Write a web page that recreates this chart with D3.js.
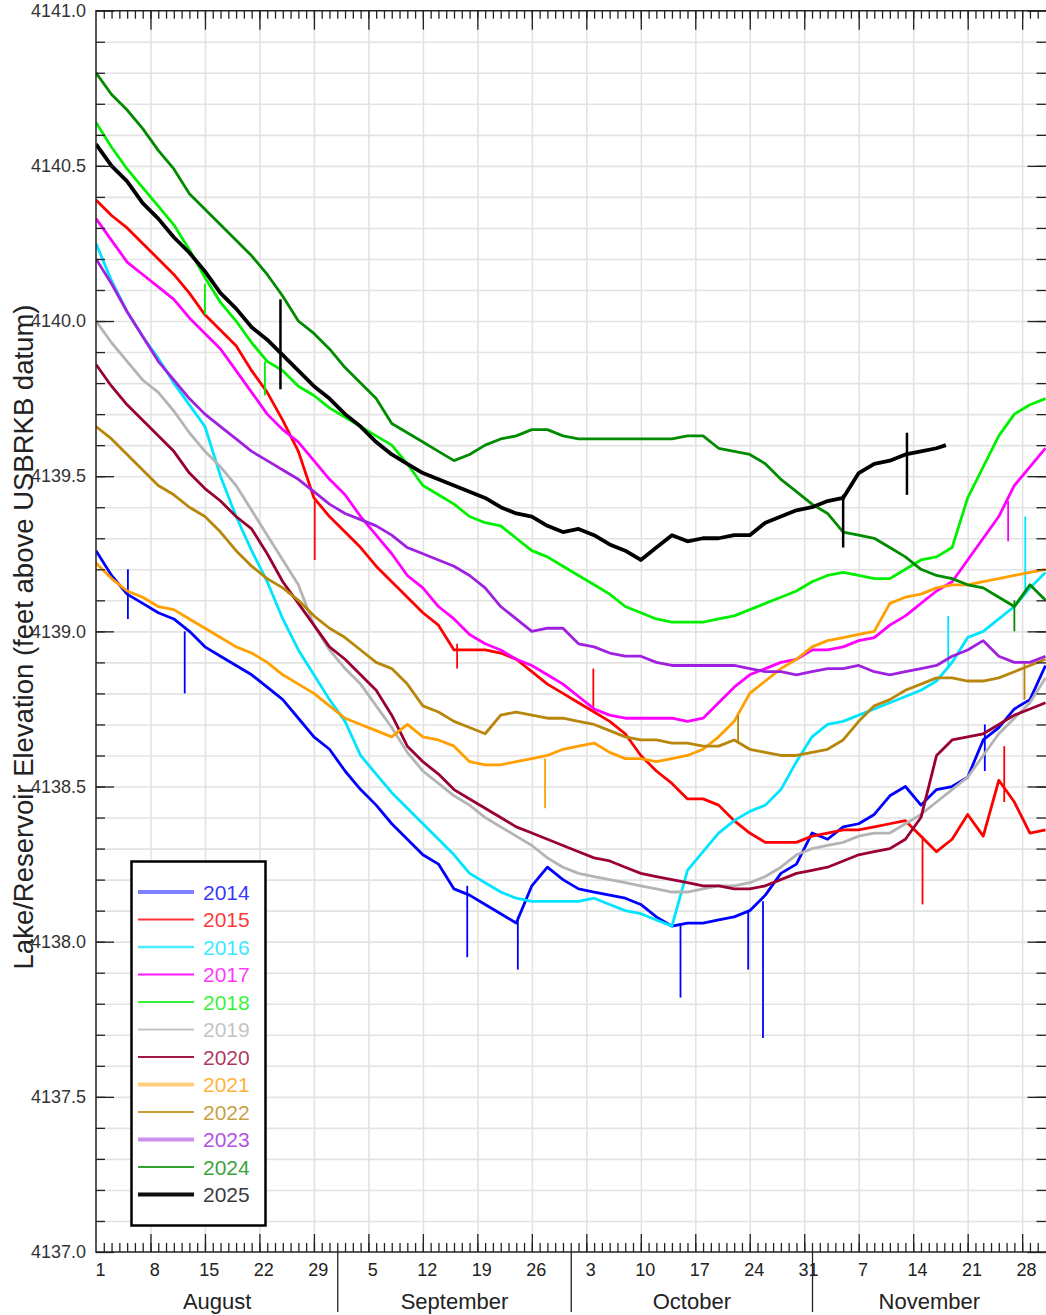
<!DOCTYPE html>
<html>
<head>
<meta charset="utf-8">
<script src="https://cdn.jsdelivr.net/npm/d3@7"></script>
<style>
html,body{margin:0;padding:0;background:#fff;}
svg{display:block;font-family:"Liberation Sans",Arial,Helvetica,sans-serif;}
</style>
</head>
<body>
<svg id="chart" width="1046" height="1315"></svg>
<script>
// ---------------- DATA ----------------
const years = ["2014","2015","2016","2017","2018","2019","2020","2021","2022","2023","2024","2025"];
const seriesColors = ["#0000ff","#ff0000","#00e5ff","#ff00ff","#00f000","#b4b4b4","#990033","#ffa000","#b8860b","#a020e0","#008b00","#000000"];

// days since Aug 1 (00:00) of each sample
const sampleDays = [0,2,4,6,8,10,12,14,16,18,20,22,24,26,28,30,32,34,36,38,40,42,44,46,48,50,52,54,56,58,60,
  62,64,66,68,70,72,74,76,78,80,82,84,86,88,90,92,94,96,98,100,102,104,106,108,110,112,114,116,118,120,122];

const v2014 = [4139.26,4139.18,4139.12,4139.09,4139.06,4139.04,4139.00,4138.95,4138.92,4138.89,
  4138.86,4138.82,4138.78,4138.72,4138.66,4138.62,4138.55,4138.49,4138.44,4138.38,
  4138.33,4138.28,4138.25,4138.17,4138.15,4138.12,4138.09,4138.06,4138.18,4138.24,
  4138.20,4138.17,4138.16,4138.15,4138.14,4138.12,4138.08,4138.05,4138.06,4138.06,
  4138.07,4138.08,4138.10,4138.15,4138.22,4138.25,4138.35,4138.33,4138.37,4138.38,
  4138.41,4138.47,4138.50,4138.44,4138.49,4138.50,4138.53,4138.65,4138.69,4138.75,
  4138.78,4138.89];
const v2015 = [4140.39,4140.34,4140.30,4140.25,4140.20,4140.15,4140.09,4140.02,4139.97,4139.92,
  4139.84,4139.77,4139.68,4139.58,4139.43,4139.37,4139.32,4139.27,4139.21,4139.16,
  4139.11,4139.06,4139.02,4138.94,4138.94,4138.94,4138.93,4138.91,4138.87,4138.83,
  4138.80,4138.77,4138.74,4138.71,4138.67,4138.60,4138.55,4138.51,4138.46,4138.46,
  4138.44,4138.39,4138.35,4138.32,4138.32,4138.32,4138.34,4138.35,4138.36,4138.36,
  4138.37,4138.38,4138.39,4138.34,4138.29,4138.33,4138.41,4138.34,4138.52,4138.45,
  4138.35,4138.36];
const v2016 = [4140.25,4140.13,4140.03,4139.95,4139.88,4139.80,4139.73,4139.66,4139.50,4139.37,
  4139.26,4139.16,4139.04,4138.94,4138.86,4138.78,4138.71,4138.60,4138.54,4138.48,
  4138.43,4138.38,4138.33,4138.28,4138.22,4138.19,4138.16,4138.14,4138.13,4138.13,
  4138.13,4138.13,4138.14,4138.12,4138.10,4138.09,4138.07,4138.05,4138.23,4138.29,
  4138.35,4138.39,4138.42,4138.44,4138.49,4138.58,4138.66,4138.70,4138.71,4138.73,
  4138.75,4138.77,4138.79,4138.81,4138.84,4138.90,4138.98,4139.00,4139.04,4139.08,
  4139.14,4139.19];
const v2017 = [4140.33,4140.26,4140.19,4140.15,4140.11,4140.07,4140.01,4139.96,4139.91,4139.84,
  4139.77,4139.70,4139.65,4139.61,4139.55,4139.49,4139.44,4139.37,4139.31,4139.25,
  4139.18,4139.14,4139.08,4139.04,4138.99,4138.96,4138.94,4138.91,4138.89,4138.86,
  4138.83,4138.79,4138.75,4138.73,4138.72,4138.72,4138.72,4138.72,4138.71,4138.72,
  4138.77,4138.82,4138.86,4138.88,4138.90,4138.91,4138.94,4138.94,4138.95,4138.97,
  4138.98,4139.02,4139.05,4139.09,4139.13,4139.16,4139.23,4139.30,4139.37,4139.47,
  4139.53,4139.59];
const v2018 = [4140.64,4140.56,4140.49,4140.43,4140.37,4140.31,4140.23,4140.14,4140.06,4140.00,
  4139.93,4139.87,4139.84,4139.79,4139.76,4139.72,4139.69,4139.66,4139.63,4139.60,
  4139.54,4139.47,4139.44,4139.41,4139.37,4139.35,4139.34,4139.30,4139.26,4139.24,
  4139.21,4139.18,4139.15,4139.12,4139.08,4139.06,4139.04,4139.03,4139.03,4139.03,
  4139.04,4139.05,4139.07,4139.09,4139.11,4139.13,4139.16,4139.18,4139.19,4139.18,
  4139.17,4139.17,4139.20,4139.23,4139.24,4139.27,4139.43,4139.53,4139.63,4139.70,
  4139.73,4139.75];
const v2019 = [4140.00,4139.93,4139.87,4139.81,4139.77,4139.71,4139.64,4139.58,4139.53,4139.47,
  4139.39,4139.31,4139.23,4139.15,4139.02,4138.94,4138.88,4138.83,4138.76,4138.69,
  4138.61,4138.55,4138.51,4138.47,4138.44,4138.40,4138.37,4138.34,4138.31,4138.27,
  4138.24,4138.22,4138.21,4138.20,4138.19,4138.18,4138.17,4138.16,4138.16,4138.17,
  4138.18,4138.18,4138.19,4138.21,4138.24,4138.28,4138.30,4138.31,4138.32,4138.34,
  4138.35,4138.35,4138.38,4138.41,4138.45,4138.49,4138.53,4138.60,4138.67,4138.72,
  4138.77,4138.85];
const v2020 = [4139.86,4139.79,4139.73,4139.68,4139.63,4139.58,4139.51,4139.46,4139.42,4139.37,
  4139.33,4139.25,4139.16,4139.09,4139.02,4138.95,4138.91,4138.86,4138.81,4138.73,
  4138.63,4138.58,4138.54,4138.49,4138.46,4138.43,4138.40,4138.37,4138.35,4138.33,
  4138.31,4138.29,4138.27,4138.26,4138.24,4138.22,4138.21,4138.20,4138.19,4138.18,
  4138.18,4138.17,4138.17,4138.18,4138.20,4138.22,4138.23,4138.24,4138.26,4138.28,
  4138.29,4138.30,4138.33,4138.40,4138.60,4138.65,4138.66,4138.67,4138.70,4138.73,
  4138.75,4138.77];
const v2021 = [4139.22,4139.17,4139.13,4139.11,4139.08,4139.07,4139.04,4139.01,4138.98,4138.95,
  4138.93,4138.90,4138.86,4138.83,4138.80,4138.76,4138.72,4138.70,4138.68,4138.66,
  4138.70,4138.66,4138.65,4138.63,4138.58,4138.57,4138.57,4138.58,4138.59,4138.60,
  4138.62,4138.63,4138.64,4138.61,4138.59,4138.59,4138.58,4138.59,4138.60,4138.62,
  4138.66,4138.71,4138.80,4138.84,4138.88,4138.91,4138.95,4138.97,4138.98,4138.99,
  4139.00,4139.09,4139.11,4139.12,4139.14,4139.15,4139.15,4139.16,4139.17,4139.18,
  4139.19,4139.20];
const v2022 = [4139.66,4139.62,4139.57,4139.52,4139.47,4139.44,4139.40,4139.37,4139.32,4139.26,
  4139.21,4139.17,4139.14,4139.10,4139.05,4139.01,4138.98,4138.94,4138.90,4138.88,
  4138.83,4138.76,4138.74,4138.71,4138.69,4138.67,4138.73,4138.74,4138.73,4138.72,
  4138.72,4138.71,4138.70,4138.68,4138.66,4138.65,4138.65,4138.64,4138.64,4138.63,
  4138.63,4138.65,4138.62,4138.61,4138.60,4138.60,4138.61,4138.62,4138.65,4138.71,
  4138.76,4138.78,4138.81,4138.83,4138.85,4138.85,4138.84,4138.84,4138.85,4138.87,
  4138.89,4138.91];
const v2023 = [4140.20,4140.12,4140.03,4139.95,4139.87,4139.81,4139.75,4139.70,4139.66,4139.62,
  4139.58,4139.55,4139.52,4139.49,4139.45,4139.41,4139.38,4139.36,4139.34,4139.31,
  4139.27,4139.25,4139.23,4139.21,4139.18,4139.14,4139.08,4139.04,4139.00,4139.01,
  4139.01,4138.96,4138.95,4138.93,4138.92,4138.92,4138.90,4138.89,4138.89,4138.89,
  4138.89,4138.89,4138.88,4138.87,4138.87,4138.86,4138.87,4138.88,4138.88,4138.89,
  4138.87,4138.86,4138.87,4138.88,4138.89,4138.92,4138.94,4138.97,4138.92,4138.90,
  4138.90,4138.92];
const v2024 = [4140.80,4140.73,4140.68,4140.62,4140.55,4140.49,4140.41,4140.36,4140.31,4140.26,
  4140.21,4140.15,4140.08,4140.00,4139.96,4139.91,4139.85,4139.80,4139.75,4139.67,
  4139.64,4139.61,4139.58,4139.55,4139.57,4139.60,4139.62,4139.63,4139.65,4139.65,
  4139.63,4139.62,4139.62,4139.62,4139.62,4139.62,4139.62,4139.62,4139.63,4139.63,
  4139.59,4139.58,4139.57,4139.54,4139.49,4139.45,4139.41,4139.38,4139.32,4139.31,
  4139.30,4139.27,4139.24,4139.20,4139.18,4139.17,4139.15,4139.14,4139.11,4139.08,
  4139.15,4139.10];
const v2025 = [4140.57,4140.50,4140.45,4140.38,4140.33,4140.27,4140.22,4140.16,4140.09,4140.04,
  4139.98,4139.94,4139.89,4139.84,4139.79,4139.75,4139.70,4139.66,4139.61,4139.57,
  4139.54,4139.51,4139.49,4139.47,4139.45,4139.43,4139.40,4139.38,4139.37,4139.34,
  4139.32,4139.33,4139.31,4139.28,4139.26,4139.23,4139.27,4139.31,4139.29,4139.30,
  4139.30,4139.31,4139.31,4139.35,4139.37,4139.39,4139.40,4139.42,4139.43,4139.51,
  4139.54,4139.55,4139.57,4139.58,4139.59];
// last reading of 2025 (Nov 18)
const last2025 = [109.2, 4139.60];

const seriesValues = [v2014,v2015,v2016,v2017,v2018,v2019,v2020,v2021,v2022,v2023,v2024,v2025];

// short spikes: [year, day, from, to]
const spikes = [
  ["2014",4.1,4139.20,4139.04],["2014",11.4,4139.00,4138.80],["2014",47.7,4138.18,4137.95],
  ["2014",54.2,4138.08,4137.91],["2014",75.1,4138.06,4137.82],["2014",83.8,4138.10,4137.91],
  ["2014",85.7,4138.13,4137.69],["2014",114.2,4138.55,4138.70],
  ["2015",28.1,4139.42,4139.23],["2015",46.4,4138.96,4138.88],["2015",63.9,4138.75,4138.88],
  ["2015",106.2,4138.34,4138.12],["2015",116.7,4138.45,4138.63],
  ["2016",119.4,4139.12,4139.37],["2016",109.5,4138.88,4139.05],
  ["2017",117.2,4139.42,4139.29],
  ["2018",14.0,4140.12,4140.02],["2018",21.7,4139.87,4139.76],
  ["2021",57.7,4138.59,4138.43],
  ["2022",82.5,4138.64,4138.73],["2022",119.3,4138.90,4138.78],
  ["2024",118.0,4139.10,4139.00],
  ["2025",23.7,4140.07,4139.78],["2025",96.0,4139.44,4139.27],["2025",104.2,4139.64,4139.44]
];

// axis labels
const yTickLabels = ["4137.0","4137.5","4138.0","4138.5","4139.0","4139.5","4140.0","4140.5","4141.0"];
const dayTickDays = [0,7,14,21,28,35,42,49,56,63,70,77,84,91,98,105,112,119];
const dayTickLabels = ["1","8","15","22","29","5","12","19","26","3","10","17","24","31","7","14","21","28"];
const monthNames = ["August","September","October","November"];
const monthStartDays = [0,31,61,92,122];

// legend styles
const legendLineWidth = [4,2,2.5,2,2,2,2,4,2,4,2,4];
const legendLineOpacity = [0.5,0.8,0.7,0.9,0.8,0.8,0.9,0.5,0.8,0.5,0.8,0.95];

// ---------------- DRAW ----------------
const L = 96, R = 1045.5, T = 10.7, B = 1252;
const svg = d3.select("#chart");
const x = d3.scaleLinear().domain([0, 122]).range([L, R]);
const y = d3.scaleLinear().domain([4137, 4141]).range([B, T]);

const yMinor = d3.range(1, 40).map(i => +(4137 + i / 10).toFixed(1));
const yMajor = yTickLabels.map(Number);
const dayAll = d3.range(1, 122);
const weekly = dayTickDays.filter(d => d > 0);

function clean(g) { g.select(".domain").remove(); }

// gridlines
svg.append("g").attr("transform", `translate(${L},0)`)
  .call(d3.axisLeft(y).tickValues(yMinor).tickSize(-(R - L)).tickFormat(""))
  .call(clean)
  .selectAll("line").attr("stroke", "#e3e3e3").attr("stroke-width", 1.6);
svg.append("g").attr("transform", `translate(0,${B})`)
  .call(d3.axisBottom(x).tickValues(weekly).tickSize(-(B - T)).tickFormat(""))
  .call(clean)
  .selectAll("line").attr("stroke", "#e3e3e3").attr("stroke-width", 1.6);

// series
svg.append("defs").append("clipPath").attr("id", "plotclip")
  .append("rect").attr("x", L).attr("y", T).attr("width", R - L + 2).attr("height", B - T);
const plot = svg.append("g").attr("clip-path", "url(#plotclip)");
const line = d3.line().x(d => x(d[0])).y(d => y(d[1]));

years.forEach((yr, i) => {
  const vals = seriesValues[i];
  const pts = vals.map((v, k) => [sampleDays[k], v]);
  if (yr === "2025") pts.push(last2025);
  plot.append("path").datum(pts)
    .attr("fill", "none")
    .attr("stroke", seriesColors[i])
    .attr("stroke-width", yr === "2025" ? 3.8 : 2.8)
    .attr("stroke-linejoin", "round")
    .attr("d", line);
  spikes.filter(s => s[0] === yr).forEach(s => {
    plot.append("line")
      .attr("x1", x(s[1])).attr("x2", x(s[1]))
      .attr("y1", y(s[2])).attr("y2", y(s[3]))
      .attr("stroke", seriesColors[i])
      .attr("stroke-width", yr === "2025" ? 2.5 : 1.8);
  });
});

// frame (left, top, bottom; right edge lies at the picture border)
svg.append("path")
  .attr("d", `M${R + 2},${T}H${L}V${B}H${R + 2}`)
  .attr("fill", "none").attr("stroke", "#222").attr("stroke-width", 1.5);

const tickStyle = g => g.selectAll("line").attr("stroke", "#222").attr("stroke-width", 1.3);

// left axis
svg.append("g").attr("transform", `translate(${L},0)`)
  .call(d3.axisLeft(y).tickValues(yMinor).tickSize(-9).tickFormat(""))
  .call(clean).call(tickStyle);
const yAx = svg.append("g").attr("transform", `translate(${L},0)`)
  .call(d3.axisLeft(y).tickValues(yMajor).tickSize(-18).tickPadding(10).tickFormat(d3.format(".1f")))
  .call(clean).call(tickStyle);
yAx.selectAll("text").attr("font-size", 18).attr("fill", "#333")
  .attr("font-family", '"Liberation Sans",Arial,sans-serif');

// right axis
svg.append("g").attr("transform", `translate(1046.5,0)`)
  .call(d3.axisRight(y).tickValues(yMinor).tickSize(-10).tickFormat(""))
  .call(clean).call(tickStyle);
svg.append("g").attr("transform", `translate(1046.5,0)`)
  .call(d3.axisRight(y).tickValues(yMajor).tickSize(-19).tickFormat(""))
  .call(clean).call(tickStyle);

// bottom axis ticks
svg.append("g").attr("transform", `translate(0,${B})`)
  .call(d3.axisBottom(x).tickValues(dayAll).tickSize(-9).tickFormat(""))
  .call(clean).call(tickStyle);
svg.append("g").attr("transform", `translate(0,${B})`)
  .call(d3.axisBottom(x).tickValues(weekly).tickSize(-18).tickFormat(""))
  .call(clean).call(tickStyle);
// top axis ticks
svg.append("g").attr("transform", `translate(0,${T})`)
  .call(d3.axisTop(x).tickValues(dayAll).tickSize(-8).tickFormat(""))
  .call(clean).call(tickStyle);
svg.append("g").attr("transform", `translate(0,${T})`)
  .call(d3.axisTop(x).tickValues(weekly).tickSize(-19).tickFormat(""))
  .call(clean).call(tickStyle);

// day labels
const dAx = svg.append("g").attr("transform", `translate(0,${B})`)
  .call(d3.axisBottom(x).tickValues(dayTickDays.map(d => d + 0.5)).tickSize(0).tickPadding(11)
    .tickFormat((d, i) => dayTickLabels[i]))
  .call(clean);
dAx.selectAll("text").attr("font-size", 18).attr("fill", "#222")
  .attr("font-family", '"Liberation Sans",Arial,sans-serif');

// month separators
svg.append("g").attr("transform", `translate(0,${B})`)
  .call(d3.axisBottom(x).tickValues(monthStartDays.slice(1, 4)).tickSize(60).tickFormat(""))
  .call(clean).call(tickStyle);

// month labels
const mids = monthNames.map((m, i) => (monthStartDays[i] + monthStartDays[i + 1]) / 2);
const mAx = svg.append("g").attr("transform", `translate(0,${B})`)
  .call(d3.axisBottom(x).tickValues(mids).tickSize(0).tickPadding(41)
    .tickFormat((d, i) => monthNames[i]))
  .call(clean);
mAx.selectAll("text").attr("font-size", 22).attr("fill", "#222")
  .attr("font-family", '"Liberation Sans",Arial,sans-serif');

// y title
svg.append("text")
  .attr("transform", "translate(33,637) rotate(-90)")
  .attr("text-anchor", "middle")
  .attr("font-size", 27.5)
  .attr("fill", "#222")
  .text("Lake/Reservoir Elevation (feet above USBRKB datum)");

// legend
const lg = svg.append("g");
lg.append("rect").attr("x", 131.5).attr("y", 861.5).attr("width", 134).attr("height", 364)
  .attr("fill", "#fff").attr("stroke", "#000").attr("stroke-width", 2.5);
const legendY = d3.scaleLinear().domain([0, 11]).range([892, 1194.5]);
years.forEach((yr, i) => {
  const yy = legendY(i);
  lg.append("line").attr("x1", 138).attr("x2", 194).attr("y1", yy).attr("y2", yy)
    .attr("stroke", seriesColors[i]).attr("stroke-width", legendLineWidth[i])
    .attr("stroke-opacity", legendLineOpacity[i]);
  lg.append("text").attr("x", 203).attr("y", yy + 7.5)
    .attr("font-size", 21).attr("fill", seriesColors[i]).attr("fill-opacity", 0.8)
    .text(yr);
});
</script>
</body>
</html>
